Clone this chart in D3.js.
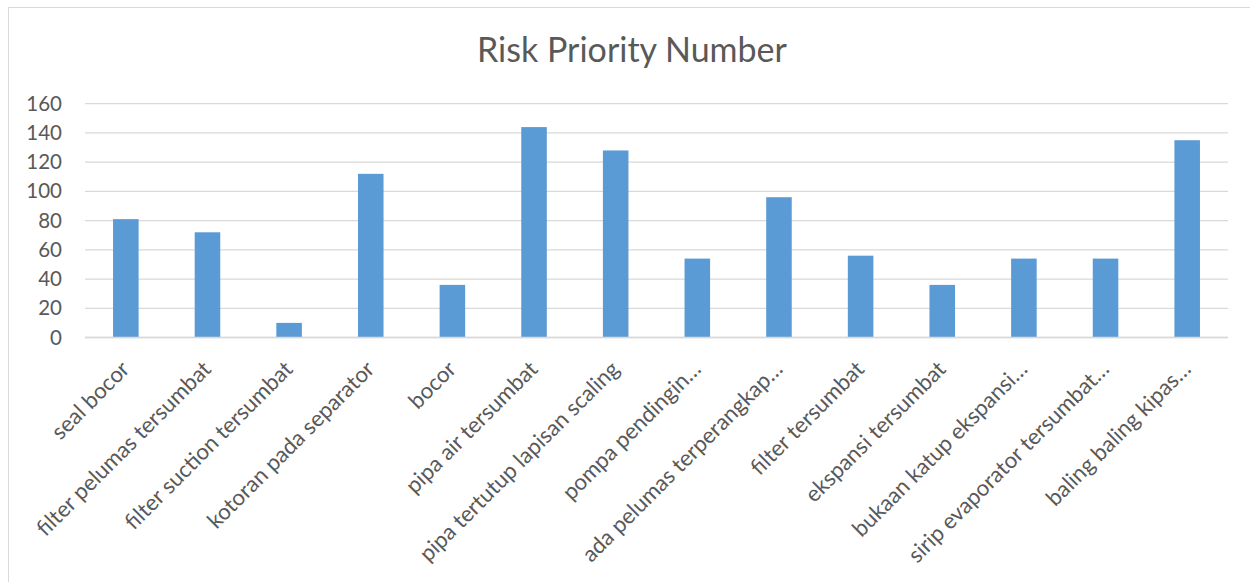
<!DOCTYPE html>
<html>
<head>
<meta charset="utf-8">
<script src="https://cdn.jsdelivr.net/npm/d3@7"></script>
<style>
  html, body { margin: 0; padding: 0; background: #fff; }
  svg { display: block; }
  text { font-family: Lato, "Open Sans", sans-serif; fill: #595959; }
</style>
</head>
<body>
<svg id="chart" width="1250" height="582"></svg>
<script>
const title = "Risk Priority Number";
const categories = [
  "seal bocor",
  "filter pelumas tersumbat",
  "filter suction tersumbat",
  "kotoran pada separator",
  "bocor",
  "pipa air tersumbat",
  "pipa tertutup lapisan scaling",
  "pompa pendingin…",
  "ada pelumas terperangkap…",
  "filter tersumbat",
  "ekspansi tersumbat",
  "bukaan katup ekspansi…",
  "sirip evaporator tersumbat…",
  "baling baling kipas…"
];
const values = [81, 72, 10, 112, 36, 144, 128, 54, 96, 56, 36, 54, 54, 135];
const yTicks = [0, 20, 40, 60, 80, 100, 120, 140, 160];

const svg = d3.select("#chart");
const W = 1250, H = 582;
const plot = { left: 85, right: 1228, top: 103.7, bottom: 337.5 };

// chart border
svg.append("rect")
  .attr("x", 8.5).attr("y", 7.5)
  .attr("width", W + 20).attr("height", H + 20)
  .attr("fill", "#fff").attr("stroke", "#d9d9d9").attr("stroke-width", 1);

const x = d3.scaleBand()
  .domain(categories)
  .range([plot.left, plot.right])
  .paddingInner(0.687)
  .paddingOuter(0.3435);

const y = d3.scaleLinear()
  .domain([0, 160])
  .range([plot.bottom, plot.top]);

// gridlines
svg.append("g")
  .selectAll("line")
  .data(yTicks)
  .join("line")
  .attr("x1", plot.left).attr("x2", plot.right)
  .attr("y1", d => y(d)).attr("y2", d => y(d))
  .attr("stroke", "#d9d9d9").attr("stroke-width", 1.3);

// y axis labels
const yAxis = d3.axisLeft(y).tickValues(yTicks).tickSize(0).tickPadding(0);
const gy = svg.append("g")
  .attr("transform", `translate(62,0)`)
  .call(yAxis);
gy.select(".domain").remove();
gy.selectAll("text")
  .attr("font-size", 20.5)
  .attr("fill", "#595959")
  .style("font-family", "Lato, 'Open Sans', sans-serif");

// bars
svg.append("g")
  .selectAll("rect")
  .data(values)
  .join("rect")
  .attr("x", (d, i) => x(categories[i]))
  .attr("width", x.bandwidth())
  .attr("y", d => y(d))
  .attr("height", d => y(0) - y(d))
  .attr("fill", "#5b9bd5");

// x axis baseline
svg.append("line")
  .attr("x1", plot.left).attr("x2", plot.right)
  .attr("y1", y(0)).attr("y2", y(0))
  .attr("stroke", "#d9d9d9").attr("stroke-width", 1.3);

// x labels
const xAxis = d3.axisBottom(x).tickSize(0).tickPadding(0);
const gx = svg.append("g")
  .attr("transform", `translate(0,${plot.bottom})`)
  .call(xAxis);
gx.select(".domain").remove();
gx.selectAll(".tick text")
  .attr("font-size", 22.2)
  .attr("fill", "#595959")
  .style("font-family", "Lato, 'Open Sans', sans-serif")
  .attr("text-anchor", "end")
  .attr("y", 0).attr("dy", 0)
  .attr("transform", "translate(5,33) rotate(-45)");

// title
svg.append("text")
  .attr("x", 632).attr("y", 62)
  .attr("text-anchor", "middle")
  .attr("font-size", 34)
  .attr("fill", "#595959")
  .text(title);
</script>
</body>
</html>
